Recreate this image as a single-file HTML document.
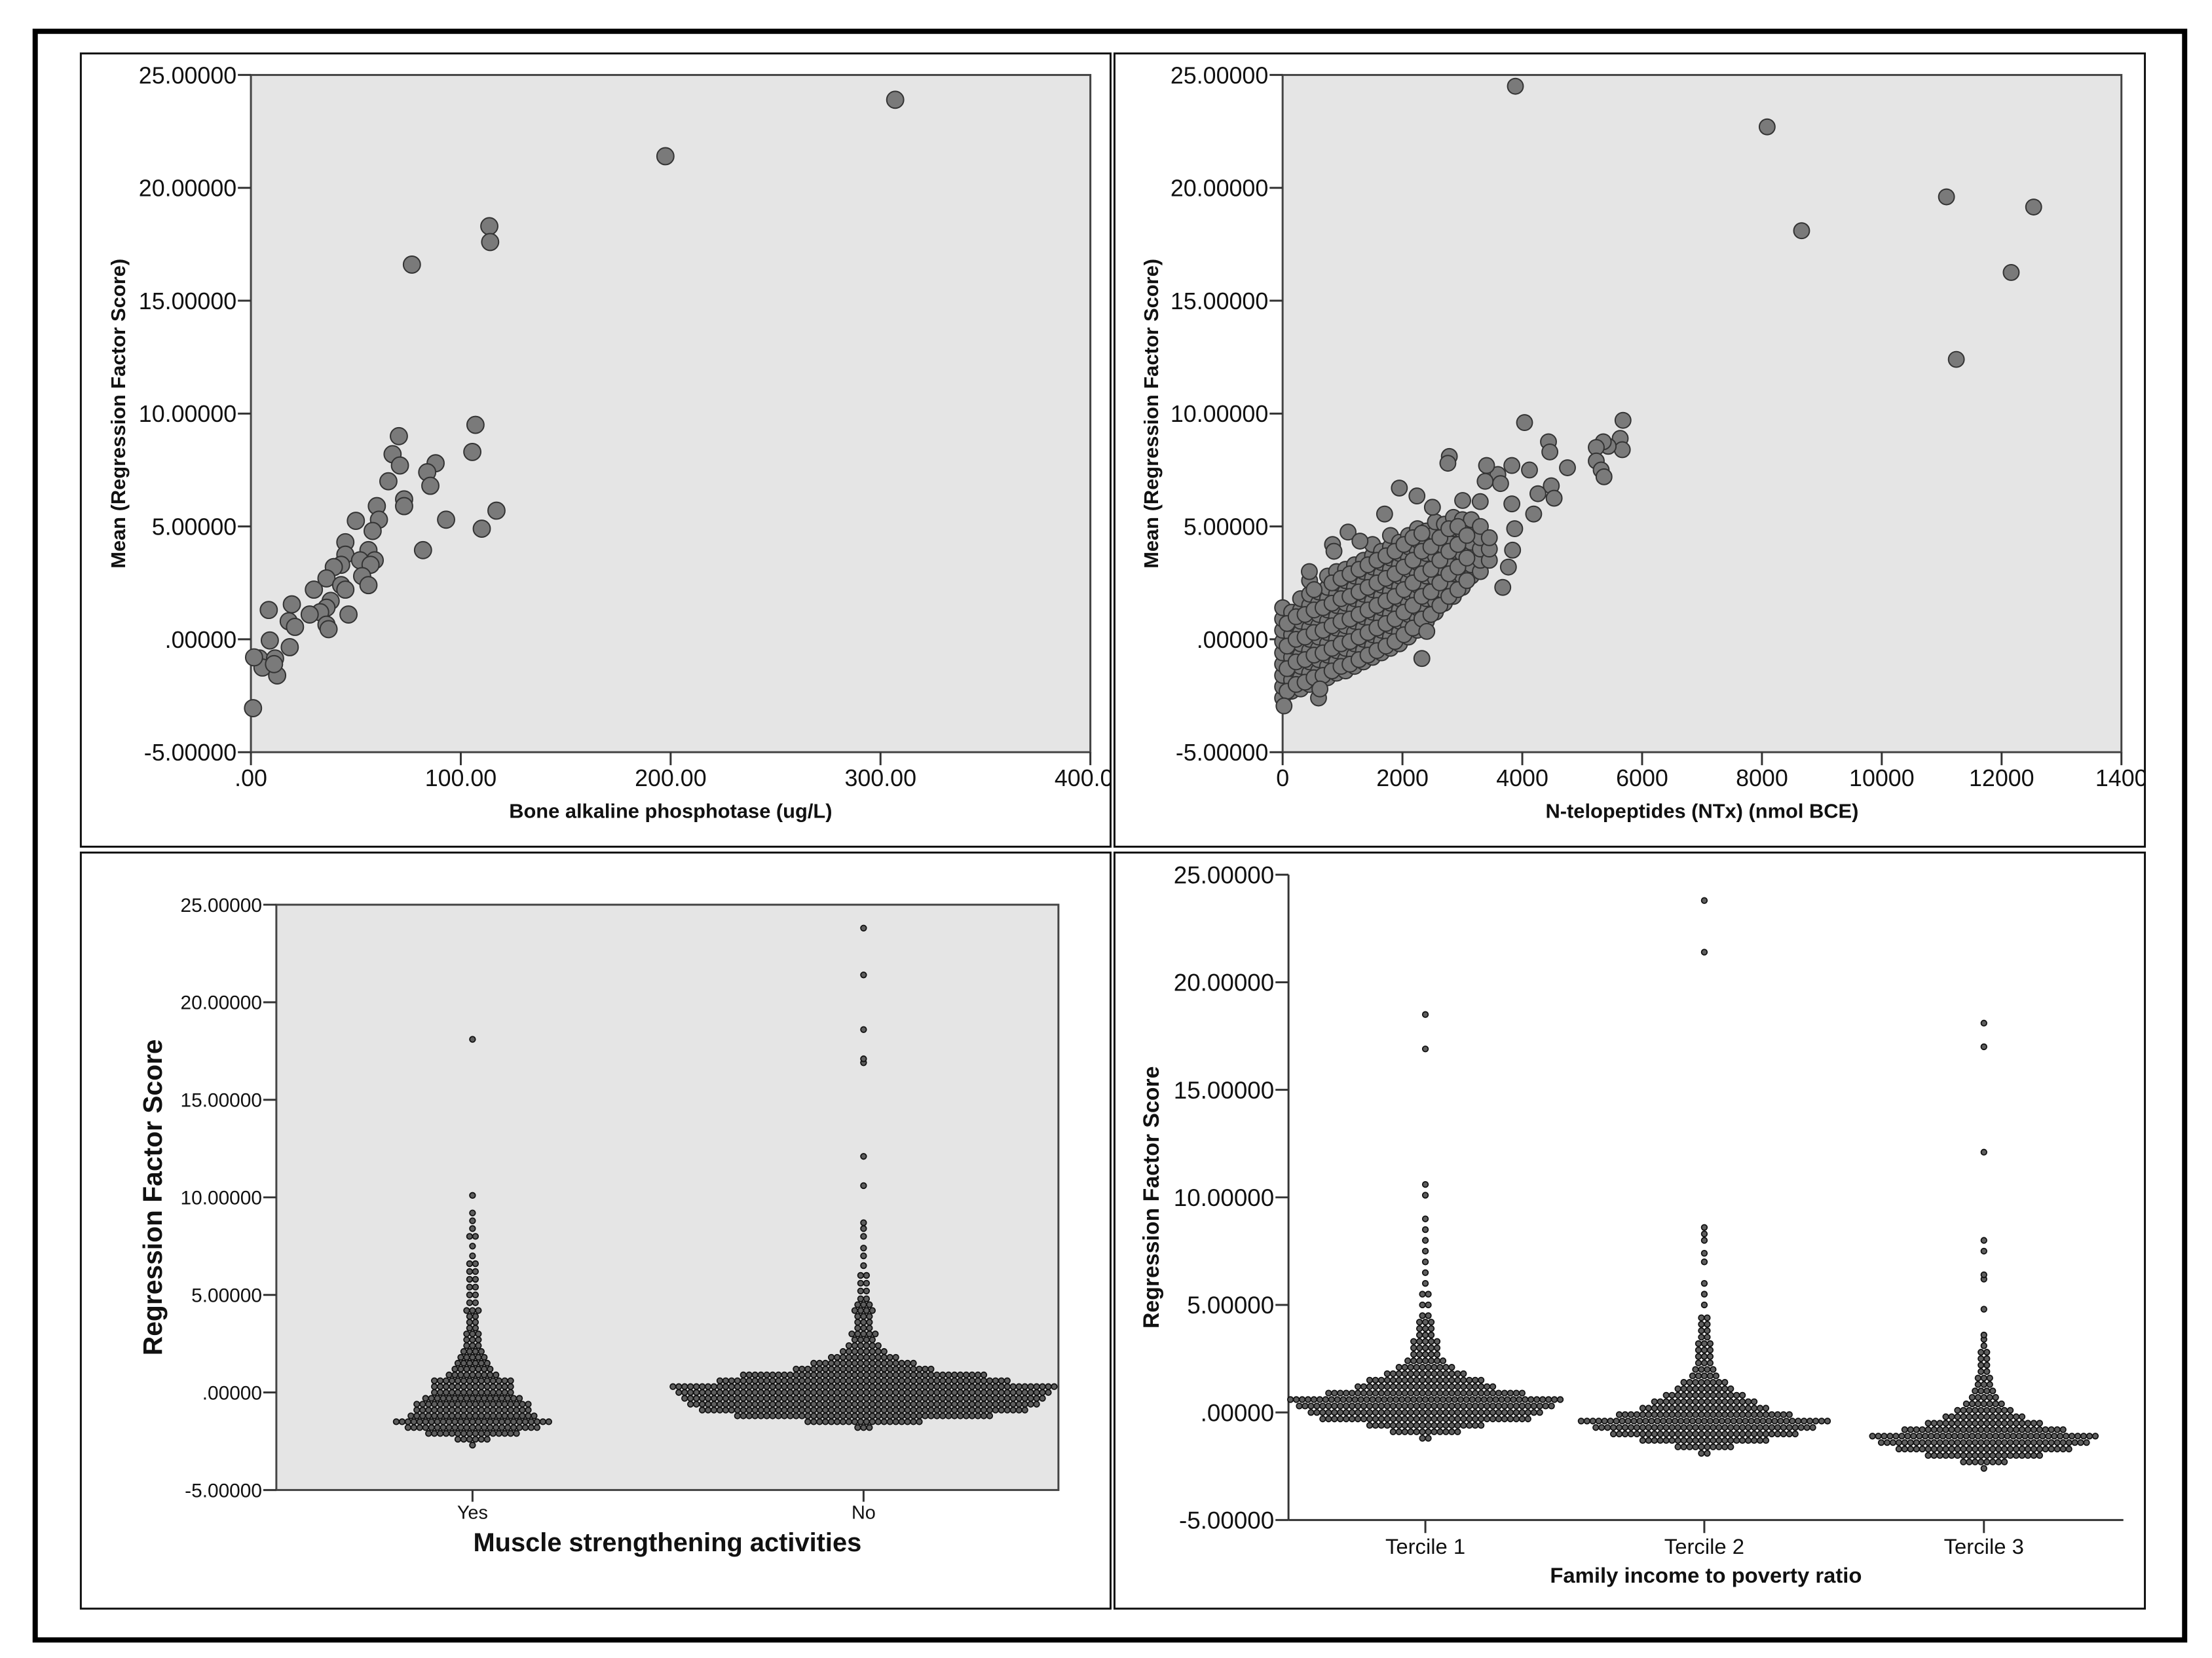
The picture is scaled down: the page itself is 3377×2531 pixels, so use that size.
<!DOCTYPE html>
<html><head><meta charset="utf-8"><style>
html,body{margin:0;padding:0;background:#fff}
svg{display:block}
text{font-family:"Liberation Sans",sans-serif;fill:#111}
</style></head><body>
<svg id="s" width="3377" height="2531" viewBox="0 0 3377 2531" xmlns="http://www.w3.org/2000/svg">
<defs>
<clipPath id="cTL"><rect x="124" y="82" width="1580" height="1217"/></clipPath>
<clipPath id="cTR"><rect x="1710" y="82" width="1581" height="1217"/></clipPath>
</defs>
<g transform="scale(0.995)">
<rect x="54" y="48" width="3298" height="2468" fill="none" stroke="#000" stroke-width="8"/>
<rect x="124" y="82" width="1580" height="1217" fill="none" stroke="#111" stroke-width="3"/>
<rect x="1710" y="82" width="1581" height="1217" fill="none" stroke="#111" stroke-width="3"/>
<rect x="124" y="1308" width="1580" height="1160" fill="none" stroke="#111" stroke-width="3"/>
<rect x="1710" y="1308" width="1581" height="1160" fill="none" stroke="#111" stroke-width="3"/>
<g id="gTL" clip-path="url(#cTL)"></g>
<g id="gTR" clip-path="url(#cTR)"></g>
<g id="gBL"></g>
<g id="gBR"></g>
</g>
</svg>
<script>
// ---- data ----
const yTicks = [-5, 0, 5, 10, 15, 20, 25];
const yTickLabels = ["-5.00000", ".00000", "5.00000", "10.00000", "15.00000", "20.00000", "25.00000"];
const bapTicks = [0, 100, 200, 300, 400];
const bapTickLabels = [".00", "100.00", "200.00", "300.00", "400.00"];
const bapX = [307,197.5,113.6,114,76.7,107,105.5,117,110,93,82,88,84,85.5,70.5,67.5,71,73,73,65.5,60,61,58,50,45,45,56,52,59,57,53,56,43,39.5,36,43,45,38,36,30,46.5,33,28,36,37,8.5,19.5,18,21,9,18.5,4,5.5,11.5,12.5,11,1,1.5];
const bapY = [23.9,21.4,18.3,17.6,16.6,9.5,8.3,5.7,4.9,5.3,3.95,7.8,7.4,6.8,9.0,8.2,7.7,6.2,5.9,7.0,5.9,5.3,4.8,5.25,4.3,3.75,3.95,3.5,3.5,3.3,2.8,2.4,3.3,3.2,2.7,2.4,2.2,1.7,1.4,2.2,1.1,1.2,1.1,0.65,0.45,1.3,1.55,0.8,0.55,-0.05,-0.35,-0.85,-1.25,-0.85,-1.6,-1.1,-3.05,-0.8];
const ntxTicks = [0,2000,4000,6000,8000,10000,12000,14000];
const ntxTickLabels = ["0","2000","4000","6000","8000","10000","12000","1400"];
const ntxX = [3885,8087,8662,11080,12535,12160,11244,4038,5681,5634,5669,5434,5352,5235,5235,5317,5364,4437,4460,4754,4120,3826,3592,3380,3638,3404,2782,2758,4484,4531,4261,4190,3826,3873,3838,3768,3674,1948,2242,3298,3005,2500,1702,1092,1291,833,857,446,2324,2406,23,599,622];
const ntxY = [24.5,22.7,18.1,19.6,19.15,16.25,12.4,9.6,9.7,8.9,8.4,8.55,8.75,8.5,7.9,7.5,7.2,8.75,8.3,7.6,7.5,7.7,7.3,7.0,6.9,7.7,8.1,7.8,6.8,6.25,6.45,5.55,6.0,4.9,3.95,3.2,2.3,6.7,6.35,6.1,6.15,5.85,5.55,4.75,4.35,4.2,3.9,3.0,-0.85,0.35,-2.95,-2.6,-2.2];
const ntxCloudX = [0,150,300,450,600,750,900,1050,1200,1350,1500,1650,1800,1950,2100,2250,2400,2550,2700,2850,3000,3150,3300,3450];
const ntxCloudY = [
 [-2.6,-2.1,-1.6,-1.1,-0.6,-0.1,0.4,0.9,1.4],
 [-2.3,-1.8,-1.3,-0.8,-0.3,0.2,0.7,1.2],
 [-2.2,-1.7,-1.2,-0.7,-0.2,0.3,0.8,1.3,1.8],
 [-2.0,-1.5,-1.0,-0.5,0,0.5,1.0,1.5,2.0,2.6],
 [-1.9,-1.4,-0.9,-0.4,0.1,0.6,1.1,1.6,2.1],
 [-1.7,-1.2,-0.7,-0.2,0.3,0.8,1.3,1.8,2.3,2.8],
 [-1.5,-1.0,-0.5,0,0.5,1.0,1.5,2.0,2.5,3.0],
 [-1.4,-0.9,-0.4,0.1,0.6,1.1,1.6,2.1,2.6,3.1],
 [-1.2,-0.7,-0.2,0.3,0.8,1.3,1.8,2.3,2.8,3.3],
 [-1.0,-0.5,0,0.5,1.0,1.5,2.0,2.5,3.0,3.5],
 [-0.8,-0.3,0.2,0.7,1.2,1.7,2.2,2.7,3.2,3.7,4.2],
 [-0.6,-0.1,0.4,0.9,1.4,1.9,2.4,2.9,3.4,3.9],
 [-0.4,0.1,0.6,1.1,1.6,2.1,2.6,3.1,3.6,4.1,4.6],
 [-0.2,0.3,0.8,1.3,1.8,2.3,2.8,3.3,3.8,4.3],
 [0.1,0.6,1.1,1.6,2.1,2.6,3.1,3.6,4.1,4.6],
 [0.4,0.9,1.4,1.9,2.4,2.9,3.4,3.9,4.4,4.9],
 [0.8,1.3,1.8,2.3,2.8,3.3,3.8,4.3,4.8],
 [1.2,1.7,2.2,2.7,3.2,3.7,4.2,4.7,5.2],
 [1.6,2.1,2.6,3.1,3.6,4.1,4.6,5.1],
 [1.9,2.4,2.9,3.4,3.9,4.4,4.9,5.4],
 [2.3,2.8,3.3,3.8,4.3,4.8,5.3],
 [2.8,3.3,3.8,4.3,4.8,5.3],
 [3.0,3.5,4.0,4.5,5.0],
 [3.5,4.0,4.5]];
const ntxCloud2X = [75,225,375,525,675,825,975,1125,1275,1425,1575,1725,1875,2025,2175,2325,2475,2625,2775,2925,3075];
const ntxCloud2Y = [
 [-2.3,-1.3,-0.3,0.7],
 [-2.0,-1.0,0,1.0],
 [-1.9,-0.9,0.1,1.1],
 [-1.7,-0.7,0.3,1.3,2.2],
 [-1.6,-0.6,0.4,1.4],
 [-1.4,-0.4,0.6,1.6,2.5],
 [-1.2,-0.2,0.8,1.8,2.7],
 [-1.1,-0.1,0.9,1.9,2.9],
 [-0.9,0.1,1.1,2.1,3.1],
 [-0.7,0.3,1.3,2.3,3.3],
 [-0.5,0.5,1.5,2.5,3.5],
 [-0.3,0.7,1.7,2.7,3.7],
 [-0.1,0.9,1.9,2.9,3.9],
 [0.2,1.2,2.2,3.2,4.2],
 [0.5,1.5,2.5,3.5,4.5],
 [0.9,1.9,2.9,3.9,4.7],
 [1.1,2.1,3.1,4.1],
 [1.5,2.5,3.5,4.5],
 [1.9,2.9,3.9,4.9],
 [2.2,3.2,4.2,5.0],
 [2.6,3.6,4.6]];
const muscleCats = ["Yes","No"];
const yesLevels = [-2.7,-2.4,-2.1,-1.8,-1.5,-1.2,-0.9,-0.6,-0.3,0,0.3,0.6,0.9,1.2,1.5,1.8,2.1,2.4,2.7,3.0,3.3,3.6,3.9,4.2,4.6,5.0,5.4,5.8,6.2,6.6,7.0,7.5,8.0,8.4,8.8,9.2,10.1,18.1];
const yesCounts = [1,6,16,23,27,22,20,20,17,14,14,14,9,7,6,5,4,3,3,3,2,2,2,3,2,2,2,2,2,2,1,1,2,1,1,1,1,1];
const noLevels = [-1.8,-1.5,-1.2,-0.9,-0.6,-0.3,0,0.3,0.6,0.9,1.2,1.5,1.8,2.1,2.4,2.7,3.0,3.3,3.6,3.9,4.2,4.5,4.8,5.2,5.6,6.0,6.5,7.0,7.4,8.0,8.4,8.7,10.6,12.1,16.9,17.1,18.6,21.4,23.8];
const noCounts = [3,20,44,56,60,62,64,66,50,42,24,18,12,8,6,4,5,3,3,3,4,3,2,2,2,2,1,1,1,1,1,1,1,1,1,1,1,1,1];
const incomeCats = ["Tercile 1","Tercile 2","Tercile 3"];
const t1Levels = [-1.2,-0.9,-0.6,-0.3,0,0.3,0.6,0.9,1.2,1.5,1.8,2.1,2.4,2.7,3.0,3.3,3.6,3.9,4.2,4.5,5.0,5.5,6.0,6.5,7.0,7.5,8.0,8.5,9.0,10.1,10.6,16.9,18.5];
const t1Counts = [2,12,20,36,40,44,47,34,24,20,14,10,7,5,5,5,3,3,3,2,2,2,1,1,1,1,1,1,1,1,1,1,1];
const t2Levels = [-1.9,-1.6,-1.3,-1.0,-0.7,-0.4,-0.1,0.2,0.5,0.8,1.1,1.4,1.7,2.0,2.3,2.6,2.9,3.2,3.5,3.8,4.1,4.4,5.0,5.5,6.0,7.0,7.4,8.0,8.3,8.6,21.4,23.8];
const t2Counts = [2,10,22,32,38,43,30,22,18,14,10,8,5,4,3,3,3,3,2,2,2,2,1,1,1,1,1,1,1,1,1,1];
const t3Levels = [-2.6,-2.3,-2.0,-1.7,-1.4,-1.1,-0.8,-0.5,-0.2,0.1,0.4,0.7,1.0,1.3,1.6,1.9,2.2,2.5,2.8,3.1,3.4,3.6,4.8,6.2,6.4,7.5,8.0,12.1,17.0,18.1];
const t3Counts = [1,8,20,30,36,39,28,20,14,10,7,5,4,3,3,2,2,2,2,1,1,1,1,1,1,1,1,1,1,1];

// ---- helpers ----
const NS = "http://www.w3.org/2000/svg";
function mk(parent, tag, attrs, txt){
  const e = document.createElementNS(NS, tag);
  for (const k in attrs) e.setAttribute(k, attrs[k]);
  if (txt !== undefined) e.textContent = txt;
  parent.appendChild(e); return e;
}
function lin(d0,d1,r0,r1){ return v => r0 + (v-d0)/(d1-d0)*(r1-r0); }

function yAxis(g, x0, sy, fs, name){
  yTicks.forEach((t,i)=>{
    const y = sy(t);
    const l = mk(g,'line',{x1:x0-20,x2:x0,y1:y,y2:y,stroke:'#333','stroke-width':3});
    
    
    const tx = mk(g,'text',{x:x0-22,y:y+fs*0.36,'font-size':fs,'text-anchor':'end'}, yTickLabels[i]);
    
    
  });
}
function title(g, x, y, txt, fs, rot, name){
  const a = {x:x,y:y,'font-size':fs,'font-weight':'bold','text-anchor':'middle'};
  if (rot) a.transform = `rotate(-90 ${x} ${y})`;
  const t = mk(g,'text',a,txt);
  
  
}

// ---- TL: bone alkaline phosphatase ----
(function(){
  const g = document.getElementById('gTL');
  const L=385,R=1673,T=115,B=1154;
  const sx = lin(0,400,L,R), sy = lin(-5,25,B,T);
  const bg = mk(g,'rect',{x:L,y:T,width:R-L,height:B-T,fill:'#e5e5e5',stroke:'#444','stroke-width':3});
   
  yAxis(g, L, sy, 36, 'y-axis-bap');
  bapTicks.forEach((t,i)=>{
    const x=sx(t);
    mk(g,'line',{x1:x,x2:x,y1:B,y2:B+20,stroke:'#333','stroke-width':3});
    const tx = mk(g,'text',{x:x,y:B+52,'font-size':36,'text-anchor':'middle'},bapTickLabels[i]);
     
  });
  bapX.forEach((v,i)=>{
    const c = mk(g,'circle',{cx:sx(v),cy:sy(bapY[i]),r:13,fill:'#7a7a7a',stroke:'#333','stroke-width':2});
     
  });
  title(g, (L+R)/2, 1255, 'Bone alkaline phosphotase (ug/L)', 31, false, 'x-axis-title-bap');
  title(g, 192, (T+B)/2, 'Mean (Regression Factor Score)', 31, true, 'y-axis-title-bap');
})();

// ---- TR: NTx ----
(function(){
  const g = document.getElementById('gTR');
  const L=1968,R=3255,T=115,B=1154;
  const sx = lin(0,14000,L,R), sy = lin(-5,25,B,T);
  const bg = mk(g,'rect',{x:L,y:T,width:R-L,height:B-T,fill:'#e5e5e5',stroke:'#444','stroke-width':3});
   
  yAxis(g, L, sy, 36, 'y-axis-ntx');
  ntxTicks.forEach((t,i)=>{
    const x=sx(t);
    mk(g,'line',{x1:x,x2:x,y1:B,y2:B+20,stroke:'#333','stroke-width':3});
    const tx = mk(g,'text',{x:x,y:B+52,'font-size':36,'text-anchor':'middle'},ntxTickLabels[i]);
     
  });
  function cloud(xs, ys){
    xs.forEach((xv,ci)=>{
      ys[ci].forEach(yv=>{
        const c = mk(g,'circle',{cx:sx(xv),cy:sy(yv),r:12,fill:'#7a7a7a',stroke:'#333','stroke-width':2});
         
      });
    });
  }
  cloud(ntxCloudX, ntxCloudY);
  cloud(ntxCloud2X, ntxCloud2Y);
  ntxX.forEach((v,i)=>{
    const c = mk(g,'circle',{cx:sx(v),cy:sy(ntxY[i]),r:12,fill:'#7a7a7a',stroke:'#333','stroke-width':2});
     
  });
  title(g, (L+R)/2, 1255, 'N-telopeptides (NTx) (nmol BCE)', 31, false, 'x-axis-title-ntx');
  title(g, 1777, (T+B)/2, 'Mean (Regression Factor Score)', 31, true, 'y-axis-title-ntx');
})();

function swarm(g, cx, sy, levels, counts, name){
  const d = 9;
  levels.forEach((lv,i)=>{
    const n = counts[i], y = sy(lv);
    for (let k=0;k<n;k++){
      const off = (k - (n-1)/2)*d;
      const c = mk(g,'circle',{cx:cx+off,cy:y,r:4.3,fill:'#5e5e5e',stroke:'#111','stroke-width':1.8});
      
      
    }
  });
}

// ---- BL: muscle ----
(function(){
  const g = document.getElementById('gBL');
  const L=424,R=1624,T=1388,B=2286;
  const sy = lin(-5,25,B,T);
  const cx = [725,1325];
  const bg = mk(g,'rect',{x:L,y:T,width:R-L,height:B-T,fill:'#e5e5e5',stroke:'#444','stroke-width':3});
   
  yAxis(g, L, sy, 30, 'y-axis-muscle');
  swarm(g, cx[0], sy, yesLevels, yesCounts, 'dot-yes');
  swarm(g, cx[1], sy, noLevels, noCounts, 'dot-no');
  muscleCats.forEach((c,i)=>{
    mk(g,'line',{x1:cx[i],x2:cx[i],y1:B,y2:B+18,stroke:'#333','stroke-width':3});
    const tx = mk(g,'text',{x:cx[i],y:B+44,'font-size':29,'text-anchor':'middle'},c);
     
  });
  title(g, (L+R)/2, 2380, 'Muscle strengthening activities', 40, false, 'x-axis-title-muscle');
  title(g, 248, (T+B)/2, 'Regression Factor Score', 41, true, 'y-axis-title-muscle');
})();

// ---- BR: income ----
(function(){
  const g = document.getElementById('gBR');
  const L=1977,R=3258,T=1342,B=2332;
  const sy = lin(-5,25,B,T);
  const cx = [2187,2615,3044];
  mk(g,'line',{x1:L,x2:L,y1:T,y2:B,stroke:'#333','stroke-width':3});
  mk(g,'line',{x1:L,x2:R,y1:B,y2:B,stroke:'#333','stroke-width':3});
  yAxis(g, L, sy, 37, 'y-axis-income');
  swarm(g, cx[0], sy, t1Levels, t1Counts, 'dot-tercile1');
  swarm(g, cx[1], sy, t2Levels, t2Counts, 'dot-tercile2');
  swarm(g, cx[2], sy, t3Levels, t3Counts, 'dot-tercile3');
  incomeCats.forEach((c,i)=>{
    mk(g,'line',{x1:cx[i],x2:cx[i],y1:B,y2:B+20,stroke:'#333','stroke-width':3});
    const tx = mk(g,'text',{x:cx[i],y:B+52,'font-size':33,'text-anchor':'middle'},c);
     
  });
  title(g, (L+R)/2, 2428, 'Family income to poverty ratio', 33, false, 'x-axis-title-income');
  title(g, 1778, (T+B)/2, 'Regression Factor Score', 34, true, 'y-axis-title-income');
})();
</script>
</body></html>
